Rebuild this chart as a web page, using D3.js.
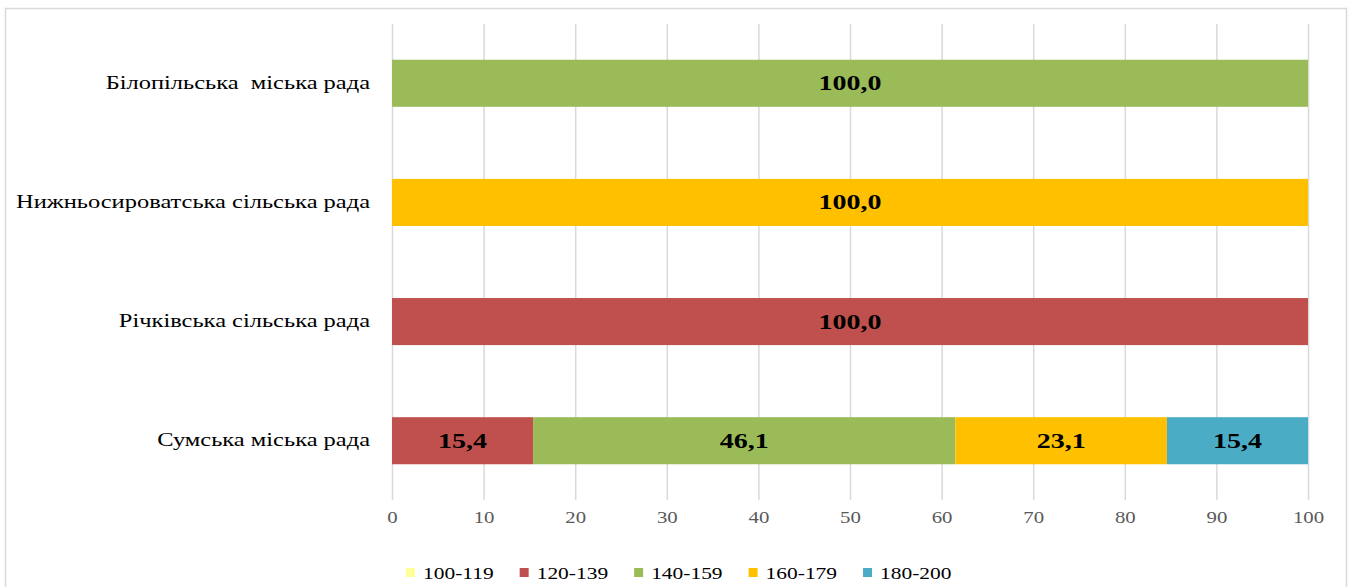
<!DOCTYPE html>
<html>
<head>
<meta charset="utf-8">
<script src="https://cdn.jsdelivr.net/npm/d3@7"></script>
<style>
  body { margin: 0; background: #fff; }
  svg { display: block; font-family: "Liberation Serif", "Times New Roman", serif; }
</style>
</head>
<body>
<script>
// categories top to bottom
var categories = ["Білопільська  міська рада", "Нижньосироватська сільська рада", "Річківська сільська рада", "Сумська міська рада"];
var groups = ["100-119", "120-139", "140-159", "160-179", "180-200"];
var colors = ["#ffff99", "#c0504d", "#9bbb59", "#ffc000", "#4bacc6"];
// share per group, same order as categories
var v100 = [0, 0, 0, 0];
var v120 = [0, 0, 100.0, 15.4];
var v140 = [100.0, 0, 0, 46.1];
var v160 = [0, 100.0, 0, 23.1];
var v180 = [0, 0, 0, 15.4];
var xTicks = [0, 10, 20, 30, 40, 50, 60, 70, 80, 90, 100];

var width = 1354, height = 587;
var margin = {top: 24, right: 46, bottom: 87, left: 392};
var SERIF = "'Liberation Serif', 'Times New Roman', serif";
var stretch = 1.36; // the source text is drawn horizontally stretched

var svg = d3.select("body").append("svg")
    .attr("width", width)
    .attr("height", height);

// outer frame
svg.append("rect")
    .attr("x", 5.5).attr("y", 8.5)
    .attr("width", 1341).attr("height", 600)
    .attr("fill", "none")
    .attr("stroke", "#d9d9d9")
    .attr("stroke-width", 1.5);

var xscale = d3.scaleLinear()
    .domain([0, 100])
    .range([margin.left, width - margin.right]);

var yscale = d3.scaleBand()
    .domain(categories)
    .range([margin.top, height - margin.bottom])
    .paddingInner(0.605)
    .paddingOuter(0.3);

var color = d3.scaleOrdinal().domain(groups).range(colors);

// gridlines
svg.append("g")
    .selectAll("line")
    .data(xTicks)
    .join("line")
    .attr("x1", d => xscale(d) + 0.5)
    .attr("x2", d => xscale(d) + 0.5)
    .attr("y1", margin.top)
    .attr("y2", height - margin.bottom)
    .attr("stroke", "#d9d9d9")
    .attr("stroke-width", 1.5);

// x-axis tick labels
svg.append("g")
    .attr("transform", `translate(0,${height - margin.bottom})`)
    .call(d3.axisBottom(xscale).tickValues(xTicks).tickSize(0).tickPadding(12))
    .call(g => g.select(".domain").remove())
    .call(g => g.selectAll("text")
        .attr("fill", "#595959")
        .attr("font-family", SERIF)
        .attr("font-size", 16)
        .attr("transform", "scale(1.3,1)"));

// y-axis labels
svg.append("g")
    .attr("transform", `translate(${margin.left},0)`)
    .call(d3.axisLeft(yscale).tickSize(0).tickPadding(22 / stretch))
    .call(g => g.select(".domain").remove())
    .call(g => g.selectAll("text")
        .attr("fill", "#000")
        .attr("font-family", SERIF)
        .attr("font-size", 18)
        .attr("transform", `scale(${stretch},1)`)
        .style("white-space", "pre"));

var series = [v100, v120, v140, v160, v180];
var rows = categories.map((c, i) => {
    var r = {cat: c};
    groups.forEach((g, j) => r[g] = series[j][i]);
    return r;
});
var stacked = d3.stack().keys(groups)(rows);

stacked.forEach(s => {
    var segs = s.filter(d => d[1] - d[0] > 0);
    svg.append("g")
        .selectAll("rect")
        .data(segs)
        .join("rect")
        .attr("x", d => xscale(d[0]))
        .attr("y", d => yscale(d.data.cat))
        .attr("width", d => xscale(d[1]) - xscale(d[0]))
        .attr("height", yscale.bandwidth())
        .attr("fill", color(s.key));

    svg.append("g")
        .selectAll("text")
        .data(segs)
        .join("text")
        .attr("transform", d => `translate(${(xscale(d[0]) + xscale(d[1])) / 2},${yscale(d.data.cat) + yscale.bandwidth() / 2}) scale(1.4,1)`)
        .attr("dy", "0.35em")
        .attr("text-anchor", "middle")
        .attr("font-weight", "bold")
        .attr("font-size", 20)
        .attr("fill", "#000")
        .text(d => d3.format(".1f")(d[1] - d[0]).replace(".", ","));
});

// legend
var legend = svg.append("g");
var lx = 406;
groups.forEach((g, i) => {
    legend.append("rect")
        .attr("x", lx)
        .attr("y", 568)
        .attr("width", 9)
        .attr("height", 9)
        .attr("fill", color(g));
    var t = legend.append("text")
        .attr("transform", `translate(${lx + 17},573) scale(1.3,1)`)
        .attr("dy", "0.35em")
        .attr("font-size", 16.5)
        .attr("fill", "#000")
        .text(g);
    lx += 17 + t.node().getComputedTextLength() * 1.3 + 26;
});
</script>
</body>
</html>
